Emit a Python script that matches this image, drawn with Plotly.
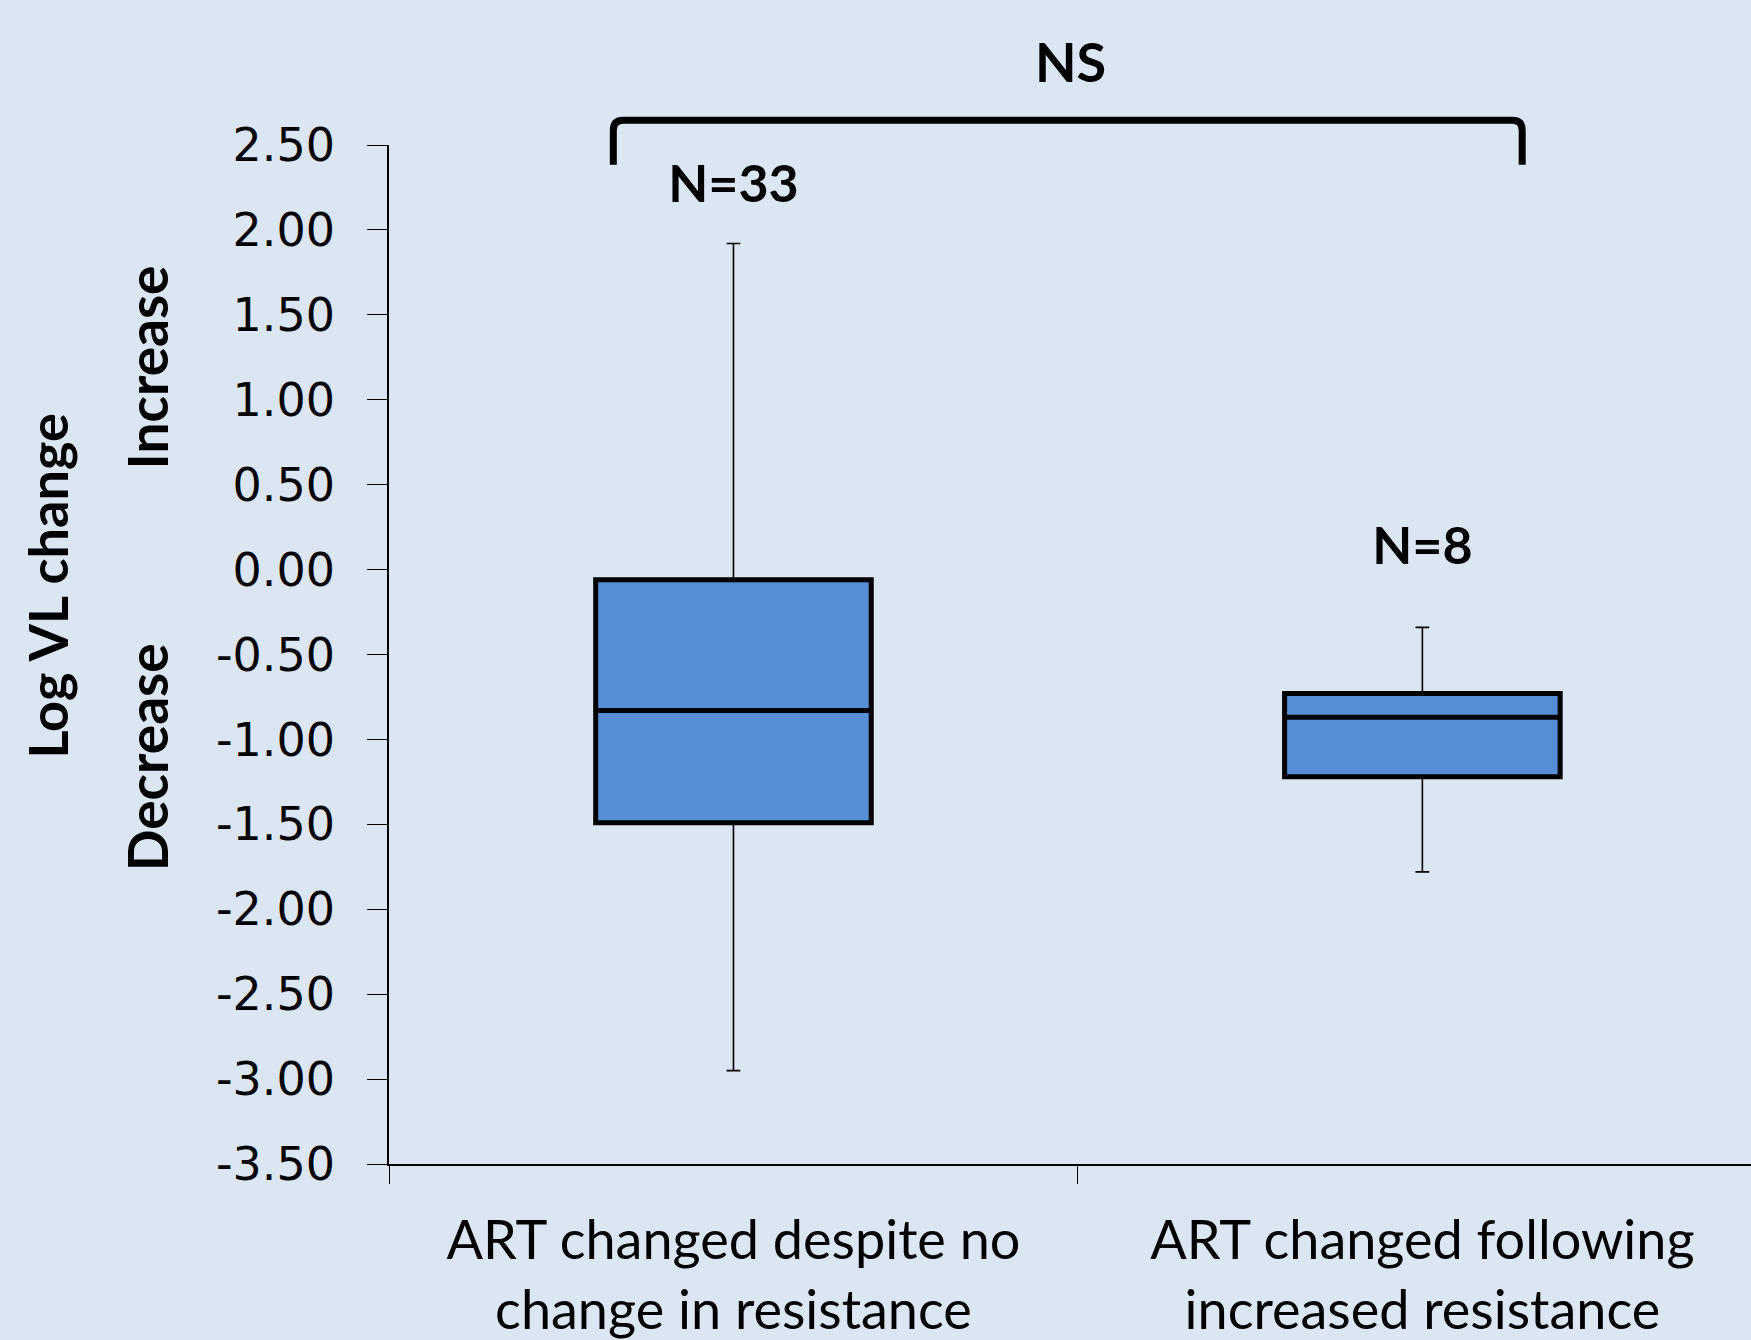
import plotly.graph_objects as go

categories = ["ART changed despite no<br>change in resistance",
              "ART changed following<br>increased resistance"]
q1 = [-1.49, -1.22]
median = [-0.83, -0.87]
q3 = [-0.06, -0.73]
lower_whisker = [-2.95, -1.78]
upper_whisker = [1.92, -0.34]
n_labels = ["N=33", "N=8"]
n_label_y = [2.24, 0.11]
tick_values = [2.5, 2.0, 1.5, 1.0, 0.5, 0.0, -0.5, -1.0, -1.5, -2.0, -2.5, -3.0, -3.5]
tick_labels = [f"{v:.2f}" for v in tick_values]

BG = "#DCE6F2"
FILL = "#558ED5"
FONT = "Lato, 'Open Sans', sans-serif"

fig = go.Figure()
# thin outline + whiskers
fig.add_trace(go.Box(
    x=categories, q1=q1, median=median, q3=q3,
    lowerfence=lower_whisker, upperfence=upper_whisker,
    fillcolor=FILL, line=dict(color="black", width=1.6),
    width=0.4, whiskerwidth=0.05, boxpoints=False, showlegend=False,
    hoverinfo="skip"))
# thick box outline on top
fig.add_trace(go.Box(
    x=categories, q1=q1, median=median, q3=q3,
    lowerfence=q1, upperfence=q3,
    fillcolor=FILL, line=dict(color="black", width=5),
    width=0.4, whiskerwidth=0, boxpoints=False, showlegend=False,
    hoverinfo="skip"))

fig.add_trace(go.Scatter(
    x=categories, y=n_label_y, text=n_labels, mode="text",
    textfont=dict(family=FONT, size=52, color="black", weight="bold"),
    showlegend=False, cliponaxis=False, hoverinfo="skip"))

fig.update_layout(
    width=1751, height=1340, autosize=False,
    paper_bgcolor=BG, plot_bgcolor=BG,
    margin=dict(l=389, r=0, t=145, b=176, pad=0),
    font=dict(family=FONT, color="black"),
    boxmode="overlay",
    xaxis=dict(type="category", categoryorder="array", categoryarray=categories,
               range=[-0.5, 1.477], tickson="boundaries", ticks="outside",
               ticklen=18, tickwidth=1.2, tickcolor="black",
               showline=True, linecolor="black", linewidth=1.6,
               showgrid=False, zeroline=False, ticklabelstandoff=28,
               tickfont=dict(family=FONT, size=54, color="black")),
    yaxis=dict(range=[-3.5, 2.5], tickvals=tick_values, ticktext=tick_labels,
               ticks="outside", ticklen=20, tickwidth=1.2, tickcolor="black",
               showline=True, linecolor="black", linewidth=1.6,
               showgrid=False, zeroline=False, ticklabelstandoff=23,
               tickfont=dict(family="DejaVu Sans", size=46, color="black")),
)

# bracket
fig.add_shape(type="path", xref="paper", yref="paper",
              path="M 0.1647,0.9806 L 0.1647,1.0144 Q 0.1647,1.0242 0.172,1.0242 "
                   "L 0.8247,1.0242 Q 0.832,1.0242 0.832,1.0144 L 0.832,0.9806",
              line=dict(color="black", width=7))

fig.add_annotation(text="<b>NS</b>", xref="paper", yref="paper", x=0.5, y=1.082,
                   showarrow=False, xanchor="center", yanchor="middle",
                   font=dict(family=FONT, size=54, color="black"))
fig.add_annotation(text="<b>Log VL change</b>", xref="paper", yref="y",
                   x=0, y=-0.1, xshift=-341, showarrow=False, textangle=-90,
                   xanchor="center", yanchor="middle",
                   font=dict(family=FONT, size=54, color="black"))
fig.add_annotation(text="<b>Increase</b>", xref="paper", yref="y",
                   x=0, y=1.19, xshift=-242, showarrow=False, textangle=-90,
                   xanchor="center", yanchor="middle",
                   font=dict(family=FONT, size=55, color="black"))
fig.add_annotation(text="<b>Decrease</b>", xref="paper", yref="y",
                   x=0, y=-1.105, xshift=-242, showarrow=False, textangle=-90,
                   xanchor="center", yanchor="middle",
                   font=dict(family=FONT, size=55, color="black"))

fig.write_html("out.html", config={"displayModeBar": False},
               post_script="document.body.style.margin='0';"
                           "document.body.style.background='#DCE6F2';")
